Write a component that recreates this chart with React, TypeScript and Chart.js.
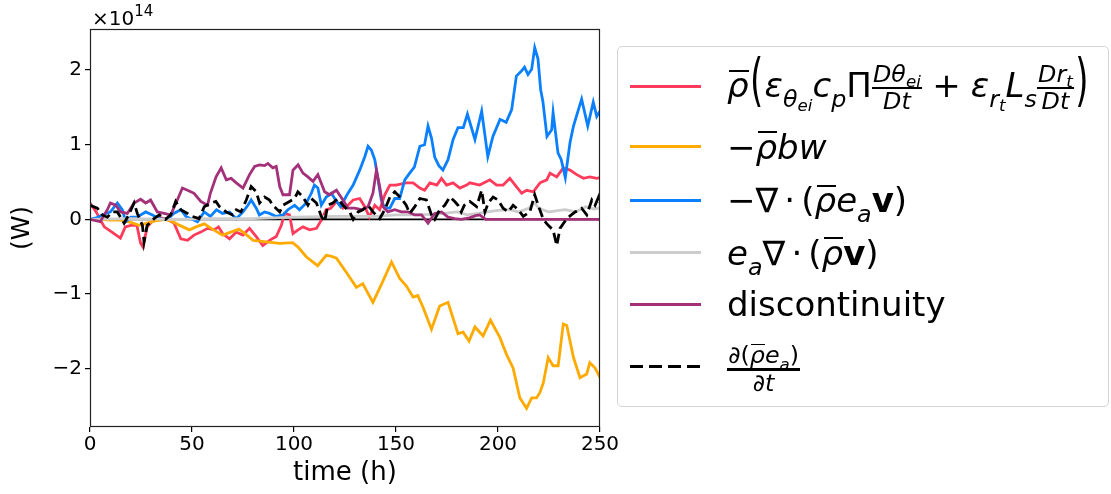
import React, { useEffect, useRef } from 'react';
import { Chart, registerables } from 'chart.js';

Chart.register(...registerables);

// ---- data (values in units of 1e14 W) ----
const latentT = [0, 3, 7, 11.8, 14.9, 17.3, 20, 23, 24.8, 26, 28, 31.4, 35, 38, 41.2, 44.5, 47.8, 51, 54.3, 57.6, 60.8, 63, 65, 68.4, 71.7, 75, 78.2, 81.5, 84.7, 88, 91.3, 93.8, 95.4, 97.8, 99.5, 102, 104.4, 107.7, 111, 113.4, 115.8, 118, 120.8, 124, 126.5, 129, 132.2, 134.7, 137, 139.6, 142, 144.5, 147, 150, 155, 158.4, 161.7, 164, 166.6, 170, 172.3, 174.8, 178, 181.3, 184.6, 186.2, 191, 196, 199.3, 202.5, 205.8, 209, 211.6, 214, 217.3, 220.6, 223.9, 225.5, 228.8, 232, 235.3, 238.6, 241.9, 245, 248.4, 250];
const latentV = [0.22, 0.1, -0.1, -0.19, -0.25, -0.1, -0.08, -0.08, -0.32, -0.37, -0.1, 0, 0.02, 0, -0.05, -0.26, -0.28, -0.21, -0.17, -0.12, -0.14, -0.1, -0.19, -0.26, -0.17, -0.21, -0.12, -0.23, -0.35, -0.28, -0.23, -0.08, 0.08, 0.06, -0.19, -0.14, -0.1, -0.14, -0.12, -0.01, 0.13, 0.15, 0.24, 0.15, 0.19, 0.26, 0.28, 0.17, 0.03, 0.19, 0.13, 0.33, 0.46, 0.46, 0.49, 0.49, 0.42, 0.39, 0.49, 0.46, 0.55, 0.46, 0.49, 0.42, 0.46, 0.49, 0.46, 0.53, 0.46, 0.46, 0.55, 0.44, 0.35, 0.39, 0.37, 0.49, 0.53, 0.62, 0.57, 0.69, 0.66, 0.6, 0.55, 0.57, 0.55, 0.56];

const buoyT = [0, 5, 10, 15, 20, 24, 28, 32, 37, 40.5, 44, 48.7, 52, 56, 60, 65, 69, 73, 76, 80, 86.4, 93, 99.3, 102, 106, 111.6, 115.8, 118, 120.8, 125.7, 130.6, 133.7, 138.7, 143.7, 147.8, 151.8, 155, 158.4, 160.7, 163.3, 167.4, 171.4, 175.5, 180.4, 182.9, 185.8, 188.7, 192.7, 196.3, 200.9, 204.2, 207.4, 210.7, 214, 216.5, 218.9, 220.5, 222.2, 224.6, 227, 229.5, 232, 233.7, 237, 240.2, 243.5, 245, 247.6, 250];
const buoyV = [0, 0, -0.01, -0.01, -0.04, -0.08, -0.05, -0.02, 0, -0.03, -0.08, -0.14, -0.1, -0.06, -0.13, -0.21, -0.17, -0.13, -0.19, -0.28, -0.3, -0.32, -0.31, -0.37, -0.5, -0.62, -0.48, -0.49, -0.52, -0.71, -0.91, -0.86, -1.11, -0.82, -0.57, -0.79, -0.89, -1.04, -1.02, -1.18, -1.47, -1.16, -1.11, -1.53, -1.51, -1.63, -1.44, -1.56, -1.35, -1.58, -1.81, -1.99, -2.39, -2.53, -2.39, -2.39, -2.32, -2.19, -1.85, -1.96, -1.96, -1.4, -1.42, -1.85, -2.12, -2.07, -1.92, -1.99, -2.12];

const convT = [0, 3, 6, 10, 13.4, 15.8, 17.5, 20, 23, 27.3, 30.6, 34, 38, 41, 44.5, 47, 49.5, 52.7, 56, 59, 62, 65, 68.4, 71.7, 75, 77.4, 79, 81.5, 83, 85.6, 88, 91.3, 94.6, 97, 100.3, 102.7, 106, 108.5, 110, 111.7, 113.4, 115.8, 118.3, 120.4, 122.8, 126, 129, 132.2, 134.7, 136.3, 137.9, 139.6, 141.2, 142.8, 144.5, 147, 149.4, 151.8, 154.3, 156.7, 159, 161.7, 164, 165.7, 167.4, 169, 171, 173, 175.5, 178, 180.4, 183, 185, 188.7, 192, 195, 197.5, 201, 204, 206.7, 209, 211.6, 213, 214.7, 216.5, 218, 219.6, 220.9, 222, 224, 226.3, 227, 229.4, 231, 233, 235.3, 237, 239.2, 241, 244, 246.7, 248.4, 250];
const convV = [0, 0.02, 0.06, 0.1, 0.22, 0.13, -0.03, 0.03, 0.03, 0.1, 0.06, 0.01, 0, 0.08, 0.13, 0.04, 0.01, -0.03, 0.1, 0.04, 0.13, 0.08, 0.1, 0.01, 0.1, 0.19, 0.26, 0.15, 0.06, 0.1, 0.08, 0.04, 0.06, 0.13, 0.19, 0.13, 0.22, 0.35, 0.46, 0.42, 0.19, 0.3, 0.35, 0.26, 0.17, 0.33, 0.46, 0.66, 0.84, 0.98, 0.93, 0.8, 0.53, 0.26, 0.15, 0.15, 0.28, 0.28, 0.53, 0.62, 0.7, 0.98, 1.0, 1.25, 1.09, 0.83, 0.72, 0.66, 0.8, 1.07, 1.23, 1.23, 1.41, 1.07, 1.45, 0.84, 1.11, 1.34, 1.3, 1.47, 1.92, 1.99, 2.04, 1.94, 2.01, 2.3, 2.15, 1.74, 1.58, 1.11, 1.2, 1.43, 0.89, 0.8, 0.56, 1.03, 1.25, 1.45, 1.61, 1.25, 1.57, 1.38, 1.45];

const divT = [0, 20, 40, 60, 80, 100, 120, 130, 140, 150, 160, 170, 180, 185, 190, 195, 200, 206, 210, 215, 218, 220, 225, 230, 233, 238, 243, 247, 250];
const divV = [0, 0.01, 0, 0.01, 0.01, 0.03, 0.04, 0.04, 0.04, 0.06, 0.06, 0.07, 0.1, 0.06, 0.08, 0.1, 0.12, 0.13, 0.1, 0.15, 0.22, 0.15, 0.1, 0.12, 0.13, 0.1, 0.17, 0.14, 0.15];

const discT = [0, 5, 8.5, 10, 12.6, 15, 18.3, 21.6, 24.8, 27.3, 29.7, 33, 36.3, 39.6, 42.8, 45.3, 47.8, 51, 54.3, 57.6, 59, 61.8, 64.3, 66.8, 69.2, 71.7, 75, 78.2, 80.7, 83.1, 85.6, 87.2, 89.6, 91.3, 93, 94.6, 97.8, 99.5, 102, 104.4, 106.8, 109.3, 111.7, 115, 117.4, 120.8, 124, 126.5, 129.7, 133, 136.3, 138.7, 140.4, 142, 143.6, 146, 149.4, 152.6, 155.9, 159.2, 162.5, 165.7, 169, 172.3, 175.5, 178.8, 182, 186, 189, 191, 194, 250];
const discV = [0, -0.03, 0.13, 0.22, 0.19, 0.1, 0.08, 0.22, 0.27, 0.22, 0.26, 0.1, 0.08, 0.06, 0.26, 0.42, 0.39, 0.35, 0.24, 0.19, 0.35, 0.57, 0.69, 0.53, 0.55, 0.49, 0.42, 0.6, 0.71, 0.73, 0.72, 0.75, 0.69, 0.71, 0.44, 0.33, 0.33, 0.66, 0.73, 0.62, 0.57, 0.51, 0.6, 0.37, 0.33, 0.39, 0.26, 0.15, 0.15, 0.13, 0.17, 0.35, 0.66, 0.44, 0.17, 0.1, 0.13, 0.1, 0.1, 0.06, 0.06, -0.05, 0.08, 0.1, 0.03, 0.01, 0, 0.02, 0.05, 0.06, 0, 0];

const tendT = [0, 3.6, 6, 8.5, 11, 13.4, 16.7, 19, 21.6, 23.2, 25.7, 26.5, 28, 31.4, 33.9, 37, 39.6, 42, 44.5, 47.8, 50.2, 53.5, 56, 59.2, 61.7, 63.5, 66.8, 70, 71.7, 74, 76.6, 79, 81.5, 83.1, 85.6, 88, 89.6, 93, 94.6, 97.8, 100.3, 101.9, 104.4, 106.8, 108.5, 111, 113.4, 115, 116.6, 119, 121.5, 124, 127.3, 129, 131.4, 133.8, 136.3, 138.7, 142, 144.5, 147, 149.4, 152.6, 155, 156.7, 159.2, 161.7, 164.9, 167.4, 169, 171.4, 173.9, 176.4, 178.8, 180.4, 182, 183.5, 186.2, 189.5, 192, 193.6, 195.2, 197.6, 200, 202.5, 205, 207.4, 209.9, 212.4, 215.6, 218, 219.7, 222.2, 224.6, 227, 228.8, 230.4, 233.7, 237.8, 241, 243.5, 246, 247.6, 249.3, 250];
const tendV = [0.19, 0.15, 0.06, 0.03, 0.1, 0.1, -0.05, 0.06, 0.22, 0.08, -0.08, -0.3, -0.08, 0.01, 0.06, 0, 0.06, 0.24, 0.13, 0.08, 0.04, 0.01, 0.17, 0.22, 0.24, 0.17, 0.1, 0.06, 0.13, 0.1, 0.26, 0.44, 0.37, 0.22, 0.3, 0.26, 0.19, 0.1, 0.19, 0.24, 0.28, 0.37, 0.3, 0.19, 0.28, 0.22, 0.04, -0.03, 0.19, 0.22, 0.28, 0.19, 0.1, 0, 0.1, 0.13, 0.19, 0.1, 0.01, 0.13, 0.3, 0.37, 0.28, 0.19, 0.08, 0.17, 0.28, 0.26, 0.06, 0, 0.13, 0.19, 0.3, 0.24, 0.19, 0.1, 0.19, 0.24, 0.17, 0.39, 0.1, 0.22, 0.3, 0.26, 0.15, 0.1, 0.19, 0.13, 0.04, 0.1, 0.33, 0.19, 0, -0.08, -0.14, -0.35, -0.12, 0.01, 0.1, 0.15, 0.06, 0.26, 0.19, 0.3, 0.22];

const zeroT = [0, 250];
const zeroV = [0, 0];

const xTicks = [0, 50, 100, 150, 200, 250];
const yTicks = [-2, -1, 0, 1, 2];

const COLORS = {
  latent: '#ff3b5c',
  buoy: '#ffaa00',
  conv: '#0a80ff',
  div: '#cccccc',
  disc: '#a33079',
  tend: '#000000',
};

const pts = (t: number[], v: number[]) => t.map((x, i) => ({ x, y: v[i] }));

const FONT = '"DejaVu Sans", Verdana, sans-serif';

const framePlugin = {
  id: 'frameAndOffset',
  afterDraw(chart: any) {
    const { ctx, chartArea } = chart;
    const { left, top, right, bottom } = chartArea;
    ctx.save();
    ctx.strokeStyle = '#222';
    ctx.lineWidth = 1.2;
    ctx.strokeRect(left + 0.5, top + 0.5, right - left - 1, bottom - top - 1);
    ctx.fillStyle = '#000';
    ctx.textBaseline = 'alphabetic';
    ctx.textAlign = 'left';
    ctx.font = `20px ${FONT}`;
    ctx.fillText('×10', left + 2, top - 4);
    const w = ctx.measureText('×10').width;
    ctx.font = `15px ${FONT}`;
    ctx.fillText('14', left + 2 + w, top - 13);
    ctx.restore();
  },
};

// ---- legend math helpers ----
const It = ({ children }: any) => <span style={{ fontStyle: 'italic' }}>{children}</span>;
const Sub = ({ children, drop = '-0.42em' }: any) => (
  <span style={{ fontSize: '0.7em', verticalAlign: drop, lineHeight: 0 }}>{children}</span>
);
const RhoBar = () => (
  <span style={{ position: 'relative', fontStyle: 'italic' }}>
    ρ
    <span style={{ position: 'absolute', left: '0.06em', right: '0.0em', top: '0.13em', borderTop: '0.075em solid #000' }} />
  </span>
);
const Frac = ({ num, den, bar = 2 }: any) => (
  <span style={{ display: 'inline-flex', flexDirection: 'column', alignItems: 'center', verticalAlign: 'middle', fontSize: '0.7em', lineHeight: 1.05 }}>
    <span style={{ borderBottom: `${bar}px solid #000`, padding: '0 0.05em' }}>{num}</span>
    <span>{den}</span>
  </span>
);
const BigParen = ({ ch }: any) => (
  <span style={{ display: 'inline-block', transform: 'scaleY(1.65)', transformOrigin: '50% 62%', margin: '0 0.04em' }}>{ch}</span>
);
const Dot = () => <span style={{ margin: '0 0.18em' }}>·</span>;

const rows = [
  { color: COLORS.latent, dash: false, baseline: 97, content: (
    <>
      <RhoBar /><BigParen ch="(" />
      <It>ε</It><Sub><It>θ</It><Sub drop="-0.25em"><It>ei</It></Sub></Sub>
      <It>c</It><Sub><It>p</It></Sub>
      <span>Π</span>
      <Frac num={<><It>Dθ</It><Sub drop="-0.3em"><It>ei</It></Sub></>} den={<It>Dt</It>} />
      <span style={{ margin: '0 0.3em' }}>+</span>
      <It>ε</It><Sub><It>r</It><Sub drop="-0.25em"><It>t</It></Sub></Sub>
      <It>L</It><Sub><It>s</It></Sub>
      <Frac num={<><It>Dr</It><Sub drop="-0.3em"><It>t</It></Sub></>} den={<It>Dt</It>} />
      <BigParen ch=")" />
    </>
  ) },
  { color: COLORS.buoy, dash: false, baseline: 158.5, content: (
    <>−<RhoBar /><It>bw</It></>
  ) },
  { color: COLORS.conv, dash: false, baseline: 212, content: (
    <>−∇<Dot />(<RhoBar /><It>e</It><Sub><It>a</It></Sub><b>v</b>)</>
  ) },
  { color: COLORS.div, dash: false, baseline: 264.5, content: (
    <><It>e</It><Sub><It>a</It></Sub>∇<Dot />(<RhoBar /><b>v</b>)</>
  ) },
  { color: COLORS.disc, dash: false, baseline: 316, content: <>discontinuity</> },
  { color: COLORS.tend, dash: true, baseline: 379, content: (
    <Frac bar={3} num={<><It>∂</It>(<RhoBar /><It>e</It><Sub><It>a</It></Sub>)</>} den={<It>∂t</It>} />
  ) },
];
const handleY = [86.7, 146.7, 200, 252.7, 304.3, 366.7];

export default function App() {
  const canvasRef = useRef<HTMLCanvasElement | null>(null);

  useEffect(() => {
    const canvas = canvasRef.current;
    if (!canvas) return;
    const lineDs = (label: string, t: number[], v: number[], color: string, order: number, extra: any = {}) => ({
      label,
      data: pts(t, v),
      borderColor: color,
      backgroundColor: color,
      borderWidth: 2.8,
      pointRadius: 0,
      tension: 0,
      fill: false,
      order,
      ...extra,
    });
    const chart = new Chart(canvas, {
      type: 'line',
      data: {
        datasets: [
          lineDs('zero', zeroT, zeroV, '#000', 10, { borderWidth: 1.6 }),
          lineDs('ρ̄(ε_θei c_p Π Dθei/Dt + ε_rt L_s Drt/Dt)', latentT, latentV, COLORS.latent, 7),
          lineDs('−ρ̄bw', buoyT, buoyV, COLORS.buoy, 6),
          lineDs('−∇·(ρ̄e_a v)', convT, convV, COLORS.conv, 5),
          lineDs('e_a∇·(ρ̄v)', divT, divV, COLORS.div, 4),
          lineDs('discontinuity', discT, discV, COLORS.disc, 3),
          lineDs('∂(ρ̄e_a)/∂t', tendT, tendV, COLORS.tend, 1, { borderDash: [10, 5] }),
        ],
      },
      options: {
        animation: false,
        responsive: false,
        devicePixelRatio: 1,
        parsing: true,
        layout: { padding: { left: 0, top: 29, right: 511, bottom: 0 } },
        plugins: { legend: { display: false }, tooltip: { enabled: false } },
        scales: {
          x: {
            type: 'linear',
            min: 0,
            max: 250,
            afterBuildTicks: (s: any) => { s.ticks = xTicks.map((v) => ({ value: v })); },
            afterFit: (s: any) => { s.height = 67; },
            ticks: { font: { family: FONT, size: 20 }, color: '#000', padding: 1, maxRotation: 0, autoSkip: false },
            grid: { drawOnChartArea: false, drawTicks: true, tickLength: 5, color: '#000', lineWidth: 1.2 },
            border: { display: false },
            title: { display: true, text: 'time (h)', font: { family: FONT, size: 26 }, color: '#000', padding: { top: 0, bottom: 5 } },
          },
          y: {
            type: 'linear',
            min: -2.78,
            max: 2.55,
            afterBuildTicks: (s: any) => { s.ticks = yTicks.map((v) => ({ value: v })); },
            afterFit: (s: any) => { s.width = 90; },
            ticks: {
              font: { family: FONT, size: 20 },
              color: '#000',
              padding: 3,
              callback: (v: any) => (Number(v) < 0 ? '\u2212' + Math.abs(Number(v)) : String(v)),
            },
            grid: { drawOnChartArea: false, drawTicks: true, tickLength: 5, color: '#000', lineWidth: 1.2 },
            border: { display: false },
            title: { display: true, text: '(W)', font: { family: FONT, size: 25 }, color: '#000', padding: { top: 7, bottom: 0 } },
          },
        },
      },
      plugins: [framePlugin],
    } as any);
    return () => chart.destroy();
  }, []);

  return (
    <div style={{ position: 'absolute', left: 0, top: 0, width: 1111, height: 494, background: '#fff', overflow: 'hidden' }}>
      <canvas ref={canvasRef} width={1111} height={494} style={{ position: 'absolute', left: 0, top: 0, width: 1111, height: 494 }} />
      <div style={{ position: 'absolute', left: 617, top: 46, width: 492, height: 361, border: '1.3px solid #d4d4d4', borderRadius: 5, background: '#fff', boxSizing: 'border-box' }} />
      {rows.map((r, i) => (
        <React.Fragment key={i}>
          <div style={{ position: 'absolute', left: 630, top: handleY[i] - 1.5, width: 71, height: 0, borderTop: r.dash ? 'none' : `3px solid ${r.color}` }}>
            {r.dash && (
              <div style={{ display: 'flex', gap: 6, position: 'absolute', top: 0, left: 0 }}>
                {[0, 1, 2, 3].map((k) => <span key={k} style={{ display: 'block', width: 13, height: 3, background: '#000' }} />)}
              </div>
            )}
          </div>
          <div style={{ position: 'absolute', left: 727, top: r.baseline - 51.75, height: 80, lineHeight: '80px', fontFamily: FONT, fontSize: 34, color: '#000', whiteSpace: 'nowrap' }}>
            {r.content}
          </div>
        </React.Fragment>
      ))}
    </div>
  );
}
